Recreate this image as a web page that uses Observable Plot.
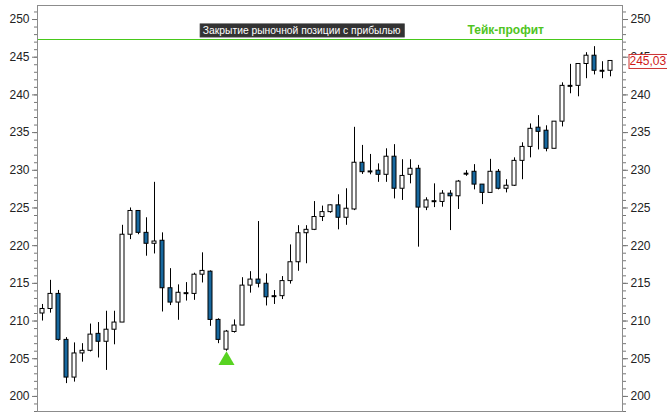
<!DOCTYPE html>
<html><head><meta charset="utf-8">
<script src="https://cdn.jsdelivr.net/npm/d3@7"></script>
<script src="https://cdn.jsdelivr.net/npm/@observablehq/plot@0.6"></script>
<style>body{margin:0;background:#fff} svg{display:block}</style>
</head><body><div id="chart"></div>
<script>
const opens  = [211.0,211.6,213.6,207.5,202.5,205.7,206.05,208.3,207.25,208.85,209.8,221.45,224.6,221.7,220.25,220.65,214.35,212.45,213.7,213.6,216.15,216.55,210.15,206.2,208.55,209.4,214.7,215.5,214.95,213.3,213.3,215.3,217.8,221.65,222.1,223.8,224.45,225.35,223.7,224.8,231.0,229.85,229.95,229.4,231.8,227.55,229.4,230.2,225.05,225.9,225.8,226.9,226.55,229.55,229.8,228.1,227.0,229.8,227.55,227.95,231.25,233.1,235.65,235.25,232.85,236.45,241.2,241.2,244.1,245.2,243.2,243.2];
const highs  = [212.2,215.4,214.06,207.8,207.1,207.0,209.6,209.8,211.3,211.3,222.7,225.0,224.6,223.7,228.4,221.7,216.95,214.8,215.1,216.35,219.05,216.65,210.3,208.75,210.15,215.75,216.55,223.2,216.25,214.05,215.9,220.1,222.65,222.65,225.85,225.25,225.4,226.75,227.55,235.7,233.3,232.1,230.85,232.85,233.4,231.4,231.4,230.65,226.35,228.2,227.3,227.3,228.65,229.95,230.75,228.1,231.45,230.1,228.75,231.65,233.65,236.15,237.25,235.9,236.45,241.6,244.05,244.1,245.6,246.4,244.4,244.5];
const lows   = [210.0,211.05,207.33,201.7,201.9,204.55,205.9,205.1,203.45,206.85,209.8,220.8,221.45,218.6,218.9,211.2,212.05,210.1,212.65,212.75,215.05,209.3,207.0,206.0,208.4,209.4,213.7,214.4,212.0,212.2,212.85,214.9,216.6,217.6,222.0,223.2,224.3,222.1,222.7,224.65,229.45,229.4,228.4,228.4,226.2,226.0,228.2,219.8,224.65,225.05,225.1,222.0,224.8,229.2,227.4,225.45,227.0,227.4,227.0,227.85,228.75,231.65,232.7,232.45,232.85,235.75,240.15,239.75,242.15,242.65,242.15,242.4];
const closes = [211.6,213.6,207.5,202.5,205.7,206.05,208.2,207.25,208.85,209.8,221.45,224.6,221.7,220.25,220.55,214.35,212.45,213.75,213.7,216.15,216.65,210.15,207.5,208.6,209.4,214.7,215.5,214.95,213.15,213.3,215.3,217.8,221.65,222.1,223.8,224.45,225.35,223.7,224.9,231.0,229.75,229.85,229.4,231.8,227.55,229.25,230.2,225.05,226.0,225.9,226.9,226.55,228.5,229.55,228.1,227.0,229.8,227.55,227.95,231.25,233.1,235.5,235.1,232.85,236.45,241.2,241.2,244.1,245.2,243.2,243.2,244.5];

const majorTicks = [200,205,210,215,220,225,230,235,240,245,250];
const minorTicks = d3.range(198, 252, 1);
const takeProfit = [247.35];
const titleNotes = [{i: 32.4, price: 248.55, text: "Закрытие рыночной позиции с прибылью"}];
const tpNotes = [{i: 57.9, price: 248.65, text: "Тейк-профит"}];
const priceTag = [{price: 244.5, text: "245,03"}];
const signals = [{i: 23, price: 204.77}];

const candles = opens.map((o, i) => ({i, o, h: highs[i], l: lows[i], c: closes[i]}));
const bodies = candles.filter(d => d.o !== d.c);
const dojis = candles.filter(d => d.o === d.c);
const hw = 0.25;

const svg = Plot.plot({
  width: 667, height: 417,
  marginLeft: 37, marginRight: 45, marginTop: 5, marginBottom: 6,
  style: {fontFamily: "'Liberation Sans', Arial, sans-serif", fontSize: "12px", background: "#fff"},
  x: {domain: [-0.625, 72.5], axis: null},
  y: {domain: [198.0, 251.86], axis: null},
  marks: [
    Plot.axisY({anchor: "left", ticks: minorTicks, tickSize: 3, tickFormat: () => "", stroke: "#777", label: null}),
    Plot.axisY({anchor: "right", ticks: minorTicks, tickSize: 3, tickFormat: () => "", stroke: "#777", label: null}),
    Plot.axisY({anchor: "left", ticks: majorTicks, tickSize: 5, tickPadding: 3, stroke: "#777", fill: "#222", label: null, fontSize: 12}),
    Plot.axisY({anchor: "right", ticks: majorTicks, tickSize: 5, tickPadding: 3, stroke: "#777", fill: "#222", label: null, fontSize: 12}),
    Plot.ruleY(takeProfit, {stroke: "#48c81a", strokeWidth: 1.2, strokeOpacity: 1}),
    Plot.ruleX(candles, {x: "i", y1: "l", y2: "h", stroke: "#000", strokeWidth: 1}),
    Plot.rect(bodies, {x1: d => d.i - hw, x2: d => d.i + hw, y1: "o", y2: "c",
      fill: d => d.c > d.o ? "#fff" : "#17689f", stroke: "#000", strokeWidth: 1}),
    Plot.ruleY(dojis, {y: "c", x1: d => d.i - hw - 0.05, x2: d => d.i + hw + 0.05, stroke: "#000", strokeWidth: 2}),
    Plot.dot(signals, {x: "i", y: "price", symbol: "triangle", r: 5.95, fill: "#58d321", stroke: "none"}),
    Plot.text(titleNotes, {x: "i", y: "price", text: "text", fill: "#fff", fontSize: 10.3, fontWeight: 500}),
    Plot.text(tpNotes, {x: "i", y: "price", text: "text", fill: "#4fc422", fontSize: 12, fontWeight: "bold"}),
    Plot.text(priceTag, {y: "price", frameAnchor: "right", dx: 7, textAnchor: "start", text: "text", fill: "#d01818", fontSize: 12}),
    Plot.frame({stroke: "#8c8c8c"})
  ]
});
document.getElementById("chart").append(svg);

function boxify(label, fill, stroke, padX, padY) {
  Array.from(svg.querySelectorAll("text")).filter(t => t.textContent === label).forEach(t => {
    let b;
    try { b = t.getBBox(); } catch (e) { return; }
    const r = document.createElementNS("http://www.w3.org/2000/svg", "rect");
    r.setAttribute("x", Math.round(b.x - padX) + 0.5);
    r.setAttribute("y", Math.round(b.y - padY) + 0.5);
    r.setAttribute("width", Math.round(b.width + 2 * padX));
    r.setAttribute("height", Math.round(b.height + 2 * padY));
    r.setAttribute("fill", fill);
    if (stroke) r.setAttribute("stroke", stroke);
    if (t.getAttribute("transform")) r.setAttribute("transform", t.getAttribute("transform"));
    t.parentNode.insertBefore(r, t);
  });
}
titleNotes.forEach(d => boxify(d.text, "#333", "#333", 3, 1));
priceTag.forEach(d => boxify(d.text, "#fff", "#c33", 1.5, 0));
</script>
</body></html>
